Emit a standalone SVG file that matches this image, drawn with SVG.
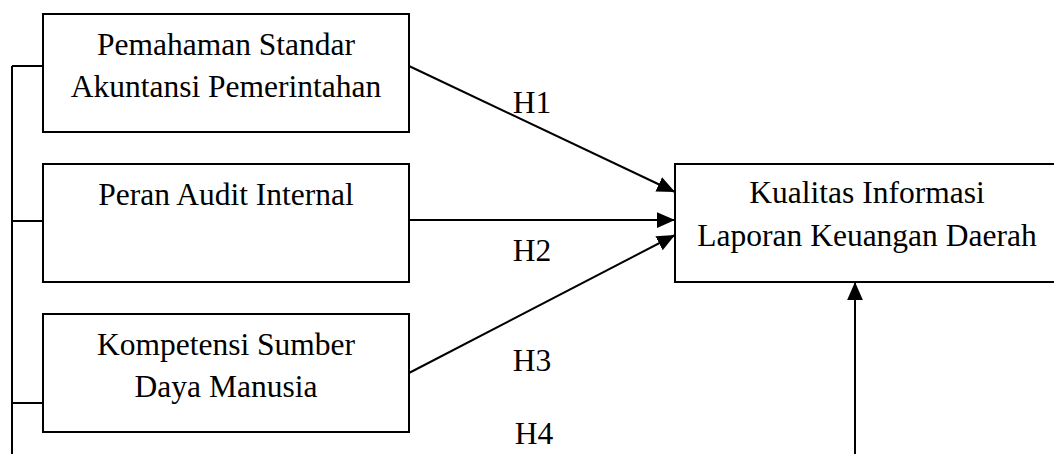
<svg xmlns="http://www.w3.org/2000/svg" width="1054" height="454" viewBox="0 0 1054 454">
<style>
.box{fill:#fff;stroke:#000;stroke-width:2}
.t{font-family:"Liberation Serif","Times New Roman",serif;font-size:31.5px;fill:#000;text-anchor:middle}
.c{fill:none;stroke:#000;stroke-width:2}
</style>
<defs>
<marker id="ah" markerUnits="userSpaceOnUse" markerWidth="18" markerHeight="16" viewBox="0 0 16 14" refX="16" refY="7" orient="auto">
<path d="M0,0 L16,7 L0,14 Z" fill="#000"/>
</marker>
</defs>
<rect width="1054" height="454" fill="#fff"/>
<g id="connectors">
<path class="c" d="M12,66 V454 M12,66 H43 M12,221 H43 M12,403 H43"/>
<line class="c" x1="409" y1="66" x2="675" y2="192" marker-end="url(#ah)"/>
<line class="c" x1="409" y1="220" x2="675" y2="220" marker-end="url(#ah)"/>
<line class="c" x1="409" y1="373" x2="675" y2="235" marker-end="url(#ah)"/>
<line class="c" x1="855" y1="454" x2="855" y2="282" marker-end="url(#ah)"/>
<text class="t" x="532" y="113">H1</text>
<text class="t" x="532" y="261">H2</text>
<text class="t" x="532" y="371">H3</text>
<text class="t" x="534" y="444">H4</text>
</g>
<g id="node-psap">
<rect class="box" x="43" y="14" width="366" height="118"/>
<text class="t" x="226" y="55">Pemahaman Standar</text>
<text class="t" x="226" y="97">Akuntansi Pemerintahan</text>
</g>
<g id="node-audit">
<rect class="box" x="43" y="164" width="366" height="118"/>
<text class="t" x="226" y="205">Peran Audit Internal</text>
</g>
<g id="node-sdm">
<rect class="box" x="43" y="314" width="366" height="118"/>
<text class="t" x="226" y="355">Kompetensi Sumber</text>
<text class="t" x="226" y="397">Daya Manusia</text>
</g>
<g id="node-kualitas">
<rect class="box" x="675" y="164" width="390" height="118"/>
<text class="t" x="867" y="203">Kualitas Informasi</text>
<text class="t" x="867" y="246">Laporan Keuangan Daerah</text>
</g>
</svg>
